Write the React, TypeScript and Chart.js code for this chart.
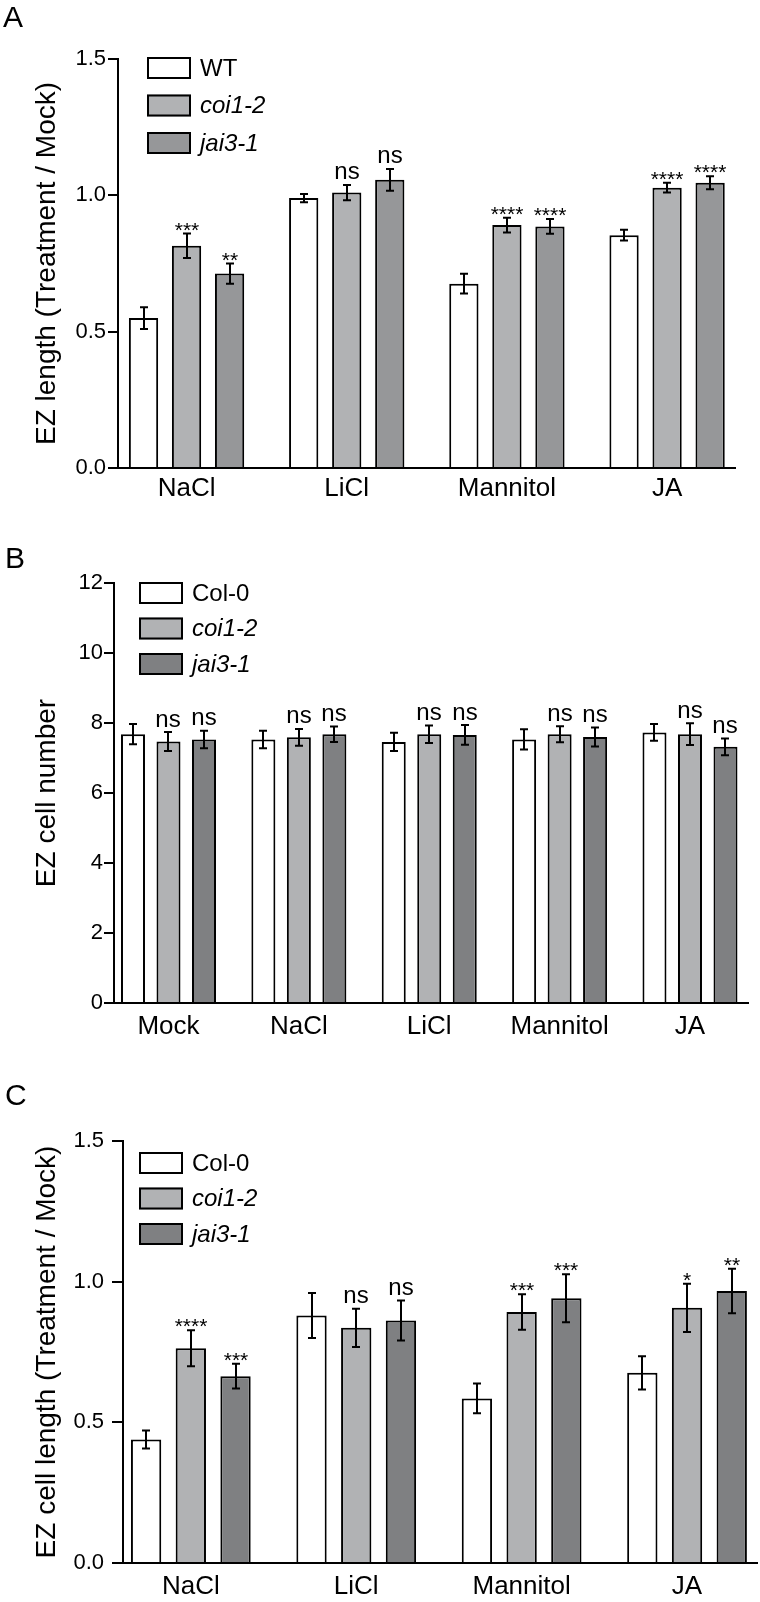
import React, { useEffect, useRef } from "react";
import { Chart, registerables } from "chart.js";

Chart.register(...registerables);

const FONT = '"Liberation Sans", Arial, Helvetica, sans-serif';

// ---------- Panel A : EZ length (Treatment / Mock) ----------
const catsA = ["NaCl", "LiCl", "Mannitol", "JA"];
const seriesA = ["WT", "coi1-2", "jai3-1"];
const aWT = [0.55, 0.99, 0.676, 0.854];
const aWTErr = [0.04, 0.015, 0.036, 0.02];
const aCoi = [0.815, 1.01, 0.891, 1.028];
const aCoiErr = [0.045, 0.028, 0.027, 0.018];
const aJai = [0.713, 1.057, 0.886, 1.046];
const aJaiErr = [0.037, 0.04, 0.027, 0.024];
const aCoiSig = ["***", "ns", "****", "****"];
const aJaiSig = ["**", "ns", "****", "****"];
const aTicks = [0, 0.5, 1.0, 1.5];

// ---------- Panel B : EZ cell number ----------
const catsB = ["Mock", "NaCl", "LiCl", "Mannitol", "JA"];
const seriesB = ["Col-0", "coi1-2", "jai3-1"];
const bWT = [7.68, 7.53, 7.46, 7.53, 7.73];
const bWTErr = [0.29, 0.25, 0.26, 0.29, 0.24];
const bCoi = [7.47, 7.59, 7.68, 7.68, 7.68];
const bCoiErr = [0.27, 0.24, 0.25, 0.23, 0.31];
const bJai = [7.53, 7.68, 7.66, 7.6, 7.32];
const bJaiErr = [0.25, 0.22, 0.28, 0.27, 0.24];
const bCoiSig = ["ns", "ns", "ns", "ns", "ns"];
const bJaiSig = ["ns", "ns", "ns", "ns", "ns"];
const bTicks = [0, 2, 4, 6, 8, 10, 12];

// ---------- Panel C : EZ cell length (Treatment / Mock) ----------
const catsC = ["NaCl", "LiCl", "Mannitol", "JA"];
const seriesC = ["Col-0", "coi1-2", "jai3-1"];
const cWT = [0.439, 0.88, 0.585, 0.676];
const cWTErr = [0.032, 0.08, 0.053, 0.059];
const cCoi = [0.763, 0.836, 0.892, 0.907];
const cCoiErr = [0.064, 0.068, 0.063, 0.086];
const cJai = [0.664, 0.862, 0.941, 0.967];
const cJaiErr = [0.044, 0.071, 0.085, 0.079];
const cCoiSig = ["****", "ns", "***", "*"];
const cJaiSig = ["***", "ns", "***", "**"];
const cTicks = [0, 0.5, 1.0, 1.5];

type PanelCfg = {
  letter: string;
  letterX: number;
  letterY: number;
  cats: string[];
  series: string[];
  values: number[][];
  errors: number[][];
  sig: (string[] | null)[];
  colors: string[];
  yMax: number;
  yTicks: number[];
  yDec: number;
  yTitle: string;
  height: number;
  top: number;
  right: number;
  axisW: number;
  xH: number;
  xPad: number;
  yPad: number;
  tickLen: number;
  xMin: number;
  xMax: number;
  catPct: number;
  barPct: number;
  legX: number;
  legY: number;
  legStep: number;
};

const panels: PanelCfg[] = [
  {
    letter: "A", letterX: 3, letterY: 27,
    cats: catsA, series: seriesA,
    values: [aWT, aCoi, aJai], errors: [aWTErr, aCoiErr, aJaiErr], sig: [null, aCoiSig, aJaiSig],
    colors: ["#ffffff", "#b1b2b4", "#969799"],
    yMax: 1.5, yTicks: aTicks, yDec: 1, yTitle: "EZ length (Treatment / Mock)",
    height: 505, top: 59, right: 25, axisW: 118, xH: 37, xPad: 5, yPad: 2, tickLen: 10,
    xMin: -0.428, xMax: 3.424, catPct: 0.806, barPct: 0.68,
    legX: 147, legY: 57, legStep: 37.5,
  },
  {
    letter: "B", letterX: 5, letterY: 63,
    cats: catsB, series: seriesB,
    values: [bWT, bCoi, bJai], errors: [bWTErr, bCoiErr, bJaiErr], sig: [null, bCoiSig, bJaiSig],
    colors: ["#ffffff", "#b1b2b4", "#7f8082"],
    yMax: 12, yTicks: bTicks, yDec: 0, yTitle: "EZ cell number",
    height: 535, top: 78, right: 12, axisW: 114, xH: 37, xPad: 8, yPad: 1, tickLen: 10,
    xMin: -0.418, xMax: 4.445, catPct: 0.817, barPct: 0.676,
    legX: 139, legY: 77, legStep: 35.5,
  },
  {
    letter: "C", letterX: 5, letterY: 65,
    cats: catsC, series: seriesC,
    values: [cWT, cCoi, cJai], errors: [cWTErr, cCoiErr, cJaiErr], sig: [null, cCoiSig, cJaiSig],
    colors: ["#ffffff", "#b1b2b4", "#7f8082"],
    yMax: 1.5, yTicks: cTicks, yDec: 1, yTitle: "EZ cell length (Treatment / Mock)",
    height: 562, top: 101, right: 3, axisW: 123, xH: 39, xPad: 8, yPad: 8, tickLen: 11,
    xMin: -0.41, xMax: 3.423, catPct: 0.811, barPct: 0.678,
    legX: 139, legY: 112, legStep: 35.5,
  },
];

function makeOverlay(p: PanelCfg) {
  return {
    id: "overlay" + p.letter,
    afterDatasetsDraw(chart: any) {
      const ctx: CanvasRenderingContext2D = chart.ctx;
      const ys = chart.scales.y;
      ctx.save();
      ctx.strokeStyle = "#000";
      ctx.fillStyle = "#000";
      ctx.lineWidth = 2;
      p.values.forEach((vals, di) => {
        const meta = chart.getDatasetMeta(di);
        vals.forEach((v, i) => {
          const el = meta.data[i];
          if (!el) return;
          const x = Math.round(el.x);
          const e = p.errors[di][i];
          const yt = ys.getPixelForValue(v + e);
          const yb = ys.getPixelForValue(v - e);
          ctx.strokeStyle = "#000";
          ctx.lineWidth = 2;
          ctx.beginPath();
          ctx.moveTo(x, yt);
          ctx.lineTo(x, yb);
          ctx.moveTo(x - 4, yt);
          ctx.lineTo(x + 4, yt);
          ctx.moveTo(x - 4, yb);
          ctx.lineTo(x + 4, yb);
          ctx.stroke();
          const s = p.sig[di] ? (p.sig[di] as string[])[i] : null;
          if (s) {
            ctx.fillStyle = "#000";
            ctx.textAlign = "center";
            ctx.textBaseline = "alphabetic";
            if (s.startsWith("*")) {
              ctx.font = `21px ${FONT}`;
              ctx.fillText(s, x, yt + 3);
            } else {
              ctx.font = `24px ${FONT}`;
              ctx.fillText(s, x, yt - 5.5);
            }
          }
        });
      });
      // legend
      p.series.forEach((name, si) => {
        const bx = p.legX;
        const by = p.legY + si * p.legStep;
        ctx.fillStyle = p.colors[si];
        ctx.fillRect(bx, by, 44, 22);
        ctx.strokeStyle = "#000";
        ctx.lineWidth = 2;
        ctx.strokeRect(bx + 1, by + 1, 42, 20);
        ctx.fillStyle = "#000";
        ctx.textAlign = "left";
        ctx.textBaseline = "middle";
        ctx.font = `${si === 0 ? "" : "italic "}24px ${FONT}`;
        ctx.fillText(name, bx + 53, by + 12);
      });
      // panel letter
      ctx.fillStyle = "#000";
      ctx.textAlign = "left";
      ctx.textBaseline = "alphabetic";
      ctx.font = `30px ${FONT}`;
      ctx.fillText(p.letter, p.letterX, p.letterY);
      ctx.restore();
    },
  };
}

function Panel({ p }: { p: PanelCfg }) {
  const ref = useRef<HTMLCanvasElement | null>(null);
  useEffect(() => {
    if (!ref.current) return;
    const datasets = p.series.map((name, si) => ({
      label: name,
      data: p.values[si].map((v, i) => ({ x: i, y: v })),
      backgroundColor: p.colors[si],
      borderColor: "#000",
      borderWidth: 2,
      categoryPercentage: p.catPct,
      barPercentage: p.barPct,
    }));
    const chart = new Chart(ref.current, {
      type: "bar",
      data: { datasets },
      plugins: [makeOverlay(p)],
      options: {
        responsive: false,
        animation: false,
        events: [],
        layout: { padding: { top: p.top, right: p.right, left: 0, bottom: 0 } },
        plugins: { legend: { display: false }, tooltip: { enabled: false } },
        scales: {
          x: {
            type: "linear",
            offset: false,
            bounds: "data",
            min: p.xMin,
            max: p.xMax,
            afterBuildTicks: (s: any) => {
              s.ticks = p.cats.map((_, i) => ({ value: i }));
            },
            afterFit: (s: any) => {
              s.height = p.xH;
            },
            grid: { display: false, drawTicks: false, offset: false },
            border: { display: true, color: "#000", width: 2 },
            ticks: {
              callback: (v: any) => p.cats[Math.round(Number(v))] ?? "",
              font: { family: FONT, size: 26 },
              color: "#000",
              padding: p.xPad,
              maxRotation: 0,
              autoSkip: false,
              includeBounds: false,
            },
          },
          y: {
            type: "linear",
            min: 0,
            max: p.yMax,
            afterBuildTicks: (s: any) => {
              s.ticks = p.yTicks.map((v) => ({ value: v }));
            },
            afterFit: (s: any) => {
              s.width = p.axisW;
            },
            grid: {
              display: true,
              drawOnChartArea: false,
              drawTicks: true,
              tickLength: p.tickLen,
              color: "#000",
              tickColor: "#000",
              lineWidth: 2,
              tickWidth: 2,
            },
            border: { display: true, color: "#000", width: 2 },
            ticks: {
              callback: (v: any) => Number(v).toFixed(p.yDec),
              font: { family: FONT, size: 22 },
              color: "#000",
              padding: p.yPad,
            },
            title: {
              display: true,
              text: p.yTitle,
              font: { family: FONT, size: 28 },
              color: "#000",
              padding: { top: 30, bottom: 0 },
            },
          },
        },
      } as any,
    });
    return () => chart.destroy();
  }, [p]);
  return (
    <canvas
      ref={ref}
      width={760}
      height={p.height}
      style={{ display: "block", width: 760, height: p.height }}
    />
  );
}

export default function App() {
  return (
    <div style={{ position: "absolute", left: 0, top: 0, width: 760, background: "#fff" }}>
      {panels.map((p) => (
        <Panel key={p.letter} p={p} />
      ))}
    </div>
  );
}
